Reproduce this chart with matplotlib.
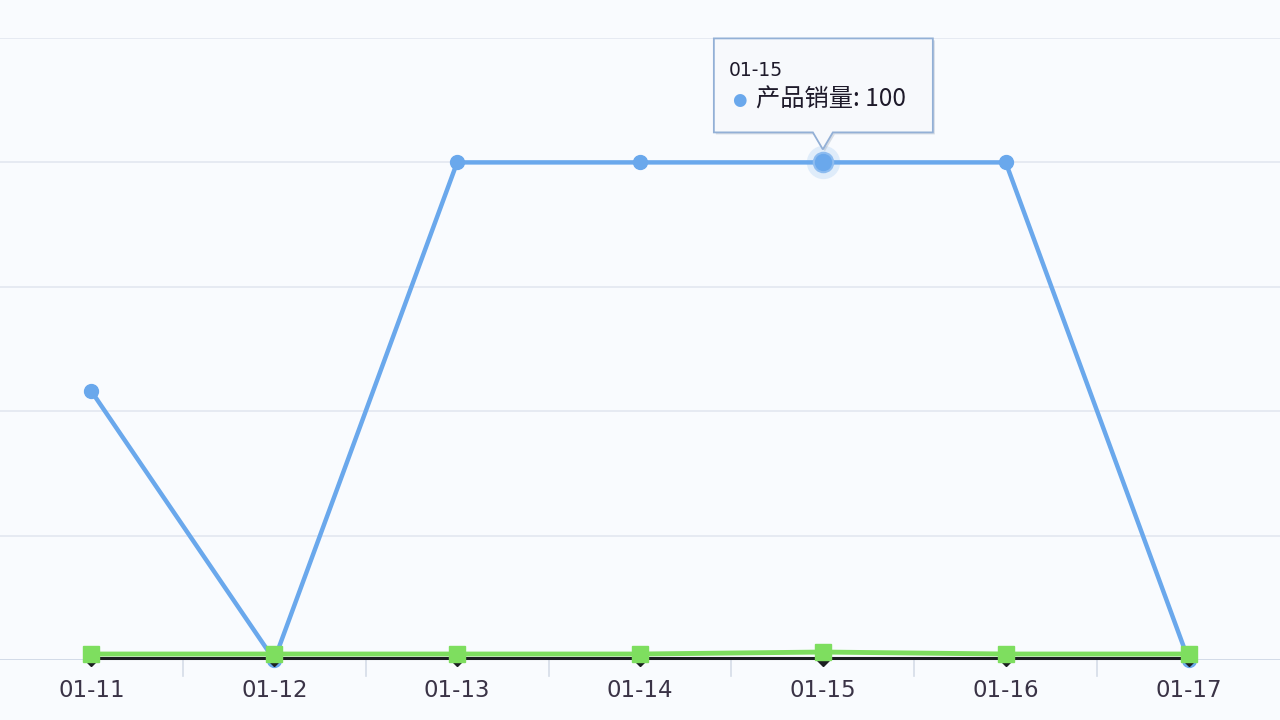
import numpy as np
import matplotlib.pyplot as plt
from matplotlib.patches import Polygon
from matplotlib.transforms import Affine2D

plt.rcParams['font.family'] = ['Noto Sans CJK SC', 'DejaVu Sans']

# data
dates = ['01-11', '01-12', '01-13', '01-14', '01-15', '01-16', '01-17']
sales = [54, 0, 100, 100, 100, 100, 0]          # 产品销量 (blue)
green_vals = [1.2, 1.2, 1.2, 1.2, 1.6, 1.2, 1.2]  # green series near zero
dark_vals = [0.5, 0.5, 0.5, 0.5, 0.5, 0.5, 0.5]   # dark series under green
y_ticks = [0, 25, 50, 75, 100, 125]
hi = 4  # highlighted point (tooltip)

bg = '#f9fbfe'
blue = '#6aa8ec'
green = '#7ede5f'

fig = plt.figure(figsize=(12.8, 7.2), dpi=100, facecolor=bg)
ax = fig.add_axes([0, 60 / 720, 1, 622 / 720], facecolor=bg)
x = np.arange(len(dates))

ax.set_xlim(-0.5, len(dates) - 0.5)
ax.set_ylim(0, 125)

# grid
for yv in y_ticks[1:]:
    ax.axhline(yv, color='#e4e9f1', lw=1.3, zorder=0)
ax.axhline(0, color='#cfd8e6', lw=1.3, zorder=1)
for s in ax.spines.values():
    s.set_visible(False)
ax.set_yticks([])

# x ticks at category centres, small boundary ticks between
ax.set_xticks(x)
ax.set_xticklabels(dates, fontsize=16.5, color='#3a3346', family='DejaVu Sans')
ax.tick_params(axis='x', length=0, pad=14)
for b in x[:-1] + 0.5:
    ax.plot([b, b], [0, -3.2], color='#d5dce8', lw=1.2, clip_on=False, zorder=1)

# blue first, then dark series, green on top
ax.plot(x, sales, color=blue, lw=3.2, marker='o', ms=10,
        mec=blue, zorder=2, clip_on=False)
ax.plot(x, dark_vals, color='#1c1f22', lw=2.2, marker='D', ms=8,
        mec='#1c1f22', zorder=3, clip_on=False)
ax.plot(x, green_vals, color=green, lw=3.5, marker='s', ms=11,
        mec=green, zorder=4, clip_on=False)

# highlighted point
ax.plot(x[hi], sales[hi], marker='o', ms=24, color=blue, alpha=0.18,
        mec='none', zorder=5)
ax.plot(x[hi], sales[hi], marker='o', ms=14, color=blue, mec='#8dbcf0',
        mew=1.5, zorder=6)

# tooltip box with pointer (soft shadow underneath)
px, py = ax.transData.transform((x[hi], sales[hi]))
verts = [(-109, 30), (-10, 30), (0, 13), (10, 30), (110, 30),
         (110, 124), (-109, 124)]
shadow = Polygon(verts, closed=True, facecolor='#9aa6b8', edgecolor='none',
                 alpha=0.35, transform=Affine2D().translate(px + 2, py - 2),
                 zorder=6.5, clip_on=False)
ax.add_patch(shadow)
tip = Polygon(verts, closed=True, facecolor='#f7f9fc', edgecolor='#93b0d6',
              lw=1.3, transform=Affine2D().translate(px, py), zorder=7,
              clip_on=False)
ax.add_patch(tip)

ax.annotate(dates[hi], (x[hi], sales[hi]), xytext=(-94, 92),
            textcoords='offset pixels', fontsize=13.5, color='#1e1a2a',
            va='center', ha='left', zorder=8, family='DejaVu Sans')
ax.annotate('●', (x[hi], sales[hi]), xytext=(-84, 62),
            textcoords='offset pixels', fontsize=12, color=blue,
            va='center', ha='center', zorder=8, family='DejaVu Sans')
ax.annotate(f'产品销量: {sales[hi]}', (x[hi], sales[hi]), xytext=(-67, 63),
            textcoords='offset pixels', fontsize=17.5, color='#1e1a2a',
            va='center', ha='left', zorder=8)

fig.savefig('out.png', dpi=100, facecolor=bg)
